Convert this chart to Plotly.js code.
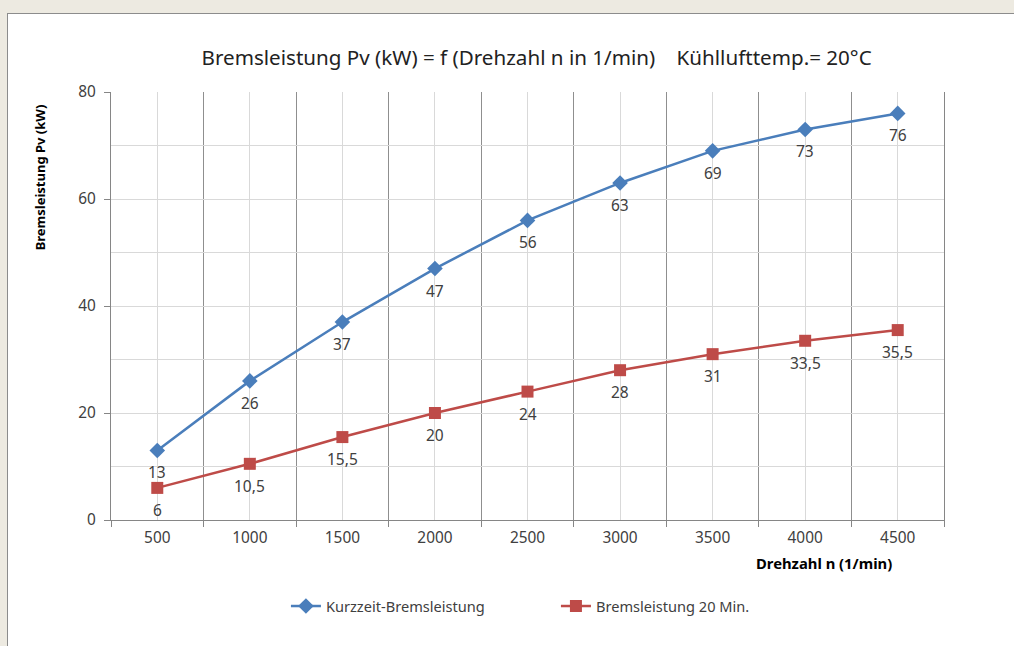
<!DOCTYPE html>
<html><head><meta charset="utf-8">
<script src="https://cdn.plot.ly/plotly-3.0.1.min.js"></script>
<style>
html,body{margin:0;padding:0;background:#EDEAE1;overflow:hidden;width:1014px;height:646px;}
#frame{position:absolute;left:7px;top:13px;width:1006px;height:632px;border-left:1px solid #8c8c8c;border-top:1px solid #8c8c8c;background:#fff;}
#chart{width:1006px;height:632px;}
</style></head>
<body><div id="frame"><div id="chart"></div></div>
<script>
const categories = [500, 1000, 1500, 2000, 2500, 3000, 3500, 4000, 4500];
const kurzzeit = [13, 26, 37, 47, 56, 63, 69, 73, 76];
const dauer20 = [6, 10.5, 15.5, 20, 24, 28, 31, 33.5, 35.5];
const seriesNames = ['Kurzzeit-Bremsleistung', 'Bremsleistung 20 Min.'];
const yTicks = [0, 20, 40, 60, 80];

const FONT = 'Noto Sans, sans-serif';
const TXT = '#404040';
const half = (categories[1] - categories[0]) / 2;
const bounds = [categories[0] - half].concat(categories.map(c => c + half));
const fmt = v => String(v).replace('.', ',');

const traces = [
  {x: categories, y: kurzzeit, name: seriesNames[0], type: 'scatter', mode: 'lines+markers',
   line: {color: '#4A7EBB', width: 2.5}, marker: {symbol: 'diamond', size: 12, color: '#4A7EBB'}},
  {x: categories, y: dauer20, name: seriesNames[1], type: 'scatter', mode: 'lines+markers',
   line: {color: '#BE4B48', width: 2.5}, marker: {symbol: 'square', size: 12, color: '#BE4B48'}}
];

const annotations = [];
[kurzzeit, dauer20].forEach(arr => arr.forEach((v, i) => annotations.push({
  x: categories[i], y: v, text: fmt(v), showarrow: false, yshift: -22,
  font: {family: FONT, size: 15.5, color: TXT}})));
annotations.push({xref: 'paper', yref: 'paper', x: -0.085, y: 0.801, textangle: -90, showarrow: false,
  text: '<b>Bremsleistung Pv (kW)</b>', font: {family: FONT, size: 13, color: '#000'}, xanchor: 'center', yanchor: 'middle'});
annotations.push({xref: 'paper', yref: 'paper', x: 0.9395, y: -0.1005, showarrow: false,
  text: '<b>Drehzahl n (1/min)</b>', font: {family: FONT, size: 14.8, color: '#000'}, xanchor: 'right', yanchor: 'middle'});

const layout = {
  width: 1006, height: 632,
  margin: {l: 103, r: 70, t: 78, b: 126},
  paper_bgcolor: '#fff', plot_bgcolor: '#fff',
  font: {family: FONT, size: 15, color: TXT},
  title: {text: 'Bremsleistung Pv (kW) = f (Drehzahl n in 1/min)&nbsp;&nbsp;&nbsp;&nbsp;Kühllufttemp.= 20°C',
    font: {family: FONT, size: 20.6, color: '#222'}, xref: 'paper', x: 0.511, xanchor: 'center',
    yref: 'container', y: 0.930, yanchor: 'middle'},
  xaxis: {range: [bounds[0], bounds[bounds.length - 1]], tickmode: 'array', tickvals: categories,
    ticktext: categories.map(String), ticks: '', showgrid: true, gridcolor: '#D9D9D9', gridwidth: 1,
    showline: true, linecolor: '#868686', linewidth: 1, zeroline: false, ticklabelstandoff: 4,
    tickfont: {family: FONT, size: 15.4, color: TXT},
    minor: {tickmode: 'array', tickvals: bounds, ticks: 'outside', ticklen: 6, tickcolor: '#868686',
      showgrid: true, gridcolor: '#8F8F8F', gridwidth: 1}},
  yaxis: {range: [0, 80], tickmode: 'array', tickvals: yTicks, ticks: 'outside', ticklen: 6, tickcolor: '#868686',
    showgrid: true, gridcolor: '#D9D9D9', showline: true, linecolor: '#868686', mirror: true, zeroline: false,
    ticklabelstandoff: 5,
    tickfont: {family: FONT, size: 15.4, color: TXT},
    minor: {dtick: 10, showgrid: true, gridcolor: '#D9D9D9', ticks: ''}},
  showlegend: true,
  legend: {orientation: 'h', x: 0.21, xanchor: 'left', y: -0.201, yanchor: 'middle',
    font: {family: FONT, size: 14.6, color: TXT}, entrywidth: 225, entrywidthmode: 'pixels'},
  annotations: annotations
};
Plotly.newPlot('chart', traces, layout, {displayModeBar: false, staticPlot: true});
</script></body></html>
